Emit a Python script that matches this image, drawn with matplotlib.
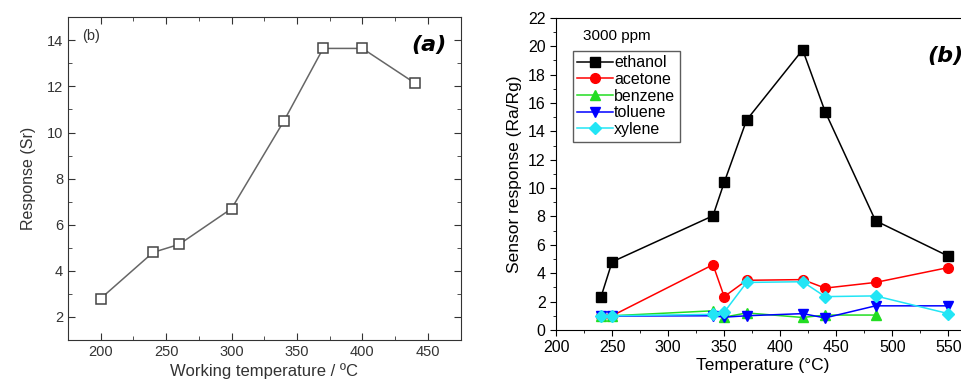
import numpy as np
import matplotlib
matplotlib.use("Agg")
import matplotlib.pyplot as plt
from matplotlib.ticker import MultipleLocator, AutoMinorLocator

# panel (a): response vs working temperature
temp_a = [200, 240, 260, 300, 340, 370, 400, 440]
resp_a = [2.8, 4.8, 5.15, 6.7, 10.5, 13.65, 13.65, 12.15]

# panel (b): sensor response for several gases at 3000 ppm
temp_b = [240, 250, 340, 350, 370, 420, 440, 485, 550]
ethanol = [2.3, 4.8, 8.05, 10.4, 14.8, 19.75, 15.4, 7.7, 5.2]
acetone = [1.0, 1.0, 4.6, 2.35, 3.5, 3.55, 2.95, 3.35, 4.4]
benzene = [1.0, 1.0, 1.35, 0.9, 1.2, 0.88, 1.05, 1.05]
toluene = [0.95, 0.98, 1.0, 0.9, 1.0, 1.15, 0.85, 1.7, 1.7]
xylene = [1.0, 1.0, 1.1, 1.25, 3.35, 3.4, 2.35, 2.4, 1.15]

plt.rcParams['font.family'] = ['Liberation Sans', 'DejaVu Sans']

fig = plt.figure(figsize=(9.62, 3.81), dpi=100)

# ---- panel (a)
ax1 = fig.add_axes([0.0707, 0.1076, 0.408, 0.847])
ax1.plot(temp_a, resp_a, color='#666666', lw=1.1, marker='s', ms=7,
         mfc='white', mec='#444444', mew=1.1)
ax1.set_xlim(175, 475)
ax1.set_ylim(1, 15)
ax1.xaxis.set_major_locator(MultipleLocator(50))
ax1.xaxis.set_minor_locator(MultipleLocator(25))
ax1.yaxis.set_major_locator(MultipleLocator(2))
ax1.yaxis.set_minor_locator(MultipleLocator(1))
ax1.tick_params(which='both', direction='in', top=True, right=True,
                labelsize=10.5, labelcolor='#333333', color='#333333')
ax1.tick_params(which='major', length=5)
ax1.tick_params(which='minor', length=3)
for s in ax1.spines.values():
    s.set_color('#333333')
ax1.set_xlabel('Working temperature / ºC', fontsize=12, color='#333333', labelpad=3)
ax1.set_ylabel('Response (Sr)', fontsize=11.5, color='#333333', labelpad=8)
ax1.text(0.035, 0.965, '(b)', transform=ax1.transAxes, fontsize=10.5,
         color='#333333', va='top')
ax1.text(0.965, 0.945, '(a)', transform=ax1.transAxes, fontsize=16,
         fontweight='bold', style='italic', va='top', ha='right',
         family=['DejaVu Sans'])

# ---- panel (b)
ax2 = fig.add_axes([0.578, 0.134, 0.43, 0.819])
series = [
    ('ethanol', ethanol, 'black', 's'),
    ('acetone', acetone, 'red', 'o'),
    ('benzene', benzene, '#22dd22', '^'),
    ('toluene', toluene, 'blue', 'v'),
    ('xylene', xylene, '#22e5f5', 'D'),
]
for name, vals, col, mk in series:
    ax2.plot(temp_b[:len(vals)], vals, color=col, marker=mk, lw=1.1,
             ms=7 if mk != 'D' else 6, label=name)
ax2.set_xlim(200, 569)
ax2.set_ylim(0, 22)
ax2.xaxis.set_major_locator(MultipleLocator(50))
ax2.xaxis.set_minor_locator(MultipleLocator(25))
ax2.yaxis.set_major_locator(MultipleLocator(2))
ax2.yaxis.set_minor_locator(MultipleLocator(1))
ax2.tick_params(which='both', direction='out', labelsize=11.5)
ax2.tick_params(which='major', length=4)
ax2.tick_params(which='minor', length=2.5)
ax2.spines['right'].set_visible(False)
ax2.set_xlabel('Temperature (°C)', fontsize=12.5, labelpad=2)
ax2.set_ylabel('Sensor response (Ra/Rg)', fontsize=12.5, labelpad=4)
ax2.text(0.065, 0.965, '3000 ppm', transform=ax2.transAxes, fontsize=11, va='top')
ax2.text(0.985, 0.91, '(b)', transform=ax2.transAxes, fontsize=16,
         fontweight='bold', style='italic', va='top', ha='right',
         family=['DejaVu Sans'])
leg = ax2.legend(loc='upper left', bbox_to_anchor=(0.04, 0.895), fontsize=11.5,
                 frameon=True, fancybox=False, edgecolor='#333333',
                 handlelength=2.2, handletextpad=0.1, borderpad=0.3,
                 labelspacing=0.1, borderaxespad=0)
leg.get_frame().set_linewidth(1.0)

fig.savefig('out.png', dpi=100)
